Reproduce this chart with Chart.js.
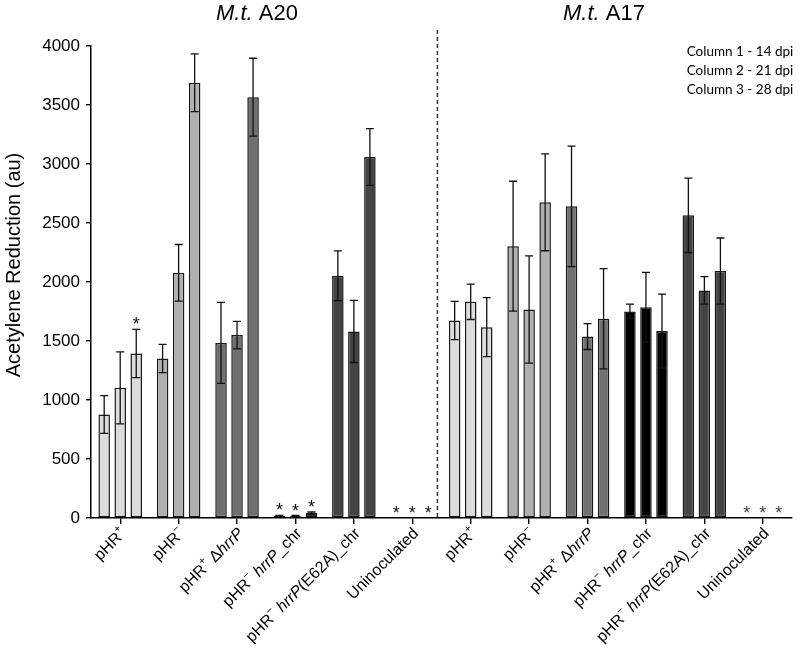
<!DOCTYPE html>
<html>
<head>
<meta charset="utf-8">
<script src="https://cdn.jsdelivr.net/npm/chart.js@4.4.1/dist/chart.umd.min.js"></script>
<style>
  html, body { margin: 0; padding: 0; background: #fff; }
</style>
</head>
<body>
<canvas id="grafico" width="802" height="654"></canvas>
<script>
// categorias (6 por estirpe de planta: A20 e A17)
const categorias = [
  'pHR+', 'pHR-', 'pHR+ ΔhrrP', 'pHR- hrrP_chr', 'pHR- hrrP(E62A)_chr', 'Uninoculated',
  'pHR+', 'pHR-', 'pHR+ ΔhrrP', 'pHR- hrrP_chr', 'pHR- hrrP(E62A)_chr', 'Uninoculated'
];

// partes do rótulo: n = normal, i = itálico, s = sobrescrito
const rotulos = [
  [['pHR', 'n'], ['+', 's']],
  [['pHR', 'n'], ['−', 's']],
  [['pHR', 'n'], ['+', 's'], [' Δ', 'n'], ['hrrP', 'i']],
  [['pHR', 'n'], ['−', 's'], [' ', 'n'], ['hrrP', 'i'], ['_chr', 'n']],
  [['pHR', 'n'], ['−', 's'], [' ', 'n'], ['hrrP', 'i'], ['(E62A)_chr', 'n']],
  [['Uninoculated', 'n']]
];

const series = ['Column 1 - 14 dpi', 'Column 2 - 21 dpi', 'Column 3 - 28 dpi'];

const coluna1 = [877, 1352, 1484, 17, 2053, 0, 1674, 2304, 2641, 1751, 2565, 0];
const coluna2 = [1103, 2078, 1550, 15, 1581, 0, 1832, 1767, 1538, 1785, 1929, 0];
const coluna3 = [1394, 3689, 3566, 42, 3059, 0, 1617, 2675, 1688, 1584, 2093, 0];

const erro1 = [160, 120, 343, 6, 210, 0, 162, 550, 510, 62, 315, 0];
const erro2 = [305, 240, 117, 6, 263, 0, 150, 455, 110, 296, 117, 0];
const erro3 = [205, 245, 330, 9, 240, 0, 250, 410, 425, 313, 280, 0];

// asteriscos de significância
const ast1 = [0, 0, 0, 1, 0, 1, 0, 0, 0, 0, 0, 1];
const ast2 = [0, 0, 0, 1, 0, 1, 0, 0, 0, 0, 0, 1];
const ast3 = [1, 0, 0, 1, 0, 1, 0, 0, 0, 0, 0, 1];

const yTicks = [0, 500, 1000, 1500, 2000, 2500, 3000, 3500, 4000];
const titulos = ['M.t. A20', 'M.t. A17'];

const coresGrupo = ['#dcdcdc', '#b0b0b0', '#707070', '#000000', '#444444', '#ffffff'];
const cores = categorias.map((c, i) => coresGrupo[i % 6]);

const valores = [coluna1, coluna2, coluna3];
const erros = [erro1, erro2, erro3];
const asteriscos = [ast1, ast2, ast3];

const FONTE = '"Liberation Sans", Arial, sans-serif';

function desenharRotulo(ctx, partes, x, y) {
  const fontes = {
    n: `16px ${FONTE}`,
    i: `italic 16px ${FONTE}`,
    s: `11px ${FONTE}`
  };
  let largura = 0;
  partes.forEach(p => {
    ctx.font = fontes[p[1]];
    largura += ctx.measureText(p[0]).width;
  });
  ctx.save();
  ctx.translate(x, y);
  ctx.rotate(-Math.PI / 4);
  ctx.textAlign = 'left';
  ctx.textBaseline = 'middle';
  let cx = -largura;
  partes.forEach(p => {
    ctx.font = fontes[p[1]];
    ctx.fillText(p[0], cx, p[1] === 's' ? -6 : 0);
    cx += ctx.measureText(p[0]).width;
  });
  ctx.restore();
}

const extras = {
  id: 'extras',
  afterDatasetsDraw(chart) {
    const ctx = chart.ctx;
    const y = chart.scales.y;
    ctx.save();
    chart.data.datasets.forEach((ds, di) => {
      const meta = chart.getDatasetMeta(di);
      meta.data.forEach((bar, i) => {
        const v = ds.data[i];
        const e = erros[di][i];
        const bx = bar.x;
        if (e > 0) {
          const yt = y.getPixelForValue(v + e);
          const yb = y.getPixelForValue(v - e);
          ctx.strokeStyle = '#111';
          ctx.lineWidth = 1.3;
          ctx.beginPath();
          ctx.moveTo(bx, yt); ctx.lineTo(bx, yb);
          ctx.moveTo(bx - 4, yt); ctx.lineTo(bx + 4, yt);
          ctx.moveTo(bx - 4, yb); ctx.lineTo(bx + 4, yb);
          ctx.stroke();
        }
        if (asteriscos[di][i]) {
          const topo = y.getPixelForValue(v + e);
          ctx.fillStyle = i >= 6 ? '#444' : '#111';
          ctx.font = `18px ${FONTE}`;
          ctx.textAlign = 'center';
          ctx.textBaseline = 'alphabetic';
          ctx.fillText('*', bx, topo + 1);
        }
      });
    });
    ctx.restore();
  },
  afterDraw(chart) {
    const ctx = chart.ctx;
    const x = chart.scales.x;
    const area = chart.chartArea;
    ctx.save();

    // linha tracejada entre as duas estirpes
    const xd = x.getPixelForValue(5.43);
    ctx.strokeStyle = '#333';
    ctx.lineWidth = 1.5;
    ctx.setLineDash([4, 3]);
    ctx.beginPath();
    ctx.moveTo(xd, 30);
    ctx.lineTo(xd, area.bottom);
    ctx.stroke();
    ctx.setLineDash([]);

    // títulos
    ctx.fillStyle = '#000';
    ctx.textBaseline = 'alphabetic';
    [[257, titulos[0]], [604, titulos[1]]].forEach(([cx, t]) => {
      const [ital, resto] = [t.slice(0, 4), t.slice(4)];
      ctx.font = `italic 22px ${FONTE}`;
      const w1 = ctx.measureText(ital).width;
      ctx.font = `22px ${FONTE}`;
      const w2 = ctx.measureText(resto).width;
      const x0 = cx - (w1 + w2) / 2;
      ctx.textAlign = 'left';
      ctx.font = `italic 22px ${FONTE}`;
      ctx.fillText(ital, x0, 20);
      ctx.font = `22px ${FONTE}`;
      ctx.fillText(resto, x0 + w1, 20);
    });

    // legenda das colunas
    ctx.font = '13.5px Lato, sans-serif';
    ctx.textAlign = 'center';
    series.forEach((s, i) => ctx.fillText(s, 740, 55.5 + i * 19.3));

    // título do eixo y
    ctx.save();
    ctx.translate(14, 265);
    ctx.rotate(-Math.PI / 2);
    ctx.font = `20px ${FONTE}`;
    ctx.textAlign = 'center';
    ctx.textBaseline = 'middle';
    ctx.fillText('Acetylene Reduction (au)', 0, 0);
    ctx.restore();

    // rótulos do eixo x
    categorias.forEach((c, i) => {
      const px = x.getPixelForValue(i);
      desenharRotulo(ctx, rotulos[i % 6], px + 4, area.bottom + 13);
    });
    ctx.restore();
  }
};

new Chart(document.getElementById('grafico'), {
  type: 'bar',
  data: {
    labels: categorias,
    datasets: valores.map((d, i) => ({
      label: series[i],
      data: d,
      backgroundColor: cores,
      borderColor: '#1a1a1a',
      borderWidth: 1.5,
      borderSkipped: false,
      categoryPercentage: 0.823,
      barPercentage: 0.72
    }))
  },
  options: {
    responsive: false,
    animation: false,
    devicePixelRatio: 1,
    layout: { padding: { top: 46, right: 10, bottom: 0, left: 0 } },
    plugins: {
      legend: { display: false },
      tooltip: { enabled: false }
    },
    scales: {
      x: {
        afterFit: s => { s.height = 136; },
        grid: { display: true, drawOnChartArea: false, offset: false, tickLength: 6, color: '#000', lineWidth: 1.4 },
        border: { display: true, color: '#000', width: 1.5 },
        ticks: { display: false }
      },
      y: {
        min: 0,
        max: 4000,
        afterFit: s => { s.width = 91; },
        afterBuildTicks: s => { s.ticks = yTicks.map(v => ({ value: v })); },
        grid: { display: true, drawOnChartArea: false, tickLength: 5, color: '#000', lineWidth: 1.4 },
        border: { display: true, color: '#000', width: 1.5 },
        ticks: {
          color: '#000',
          padding: 6,
          font: { family: FONTE, size: 17 },
          callback: v => String(v)
        }
      }
    }
  },
  plugins: [extras]
});
</script>
</body>
</html>
